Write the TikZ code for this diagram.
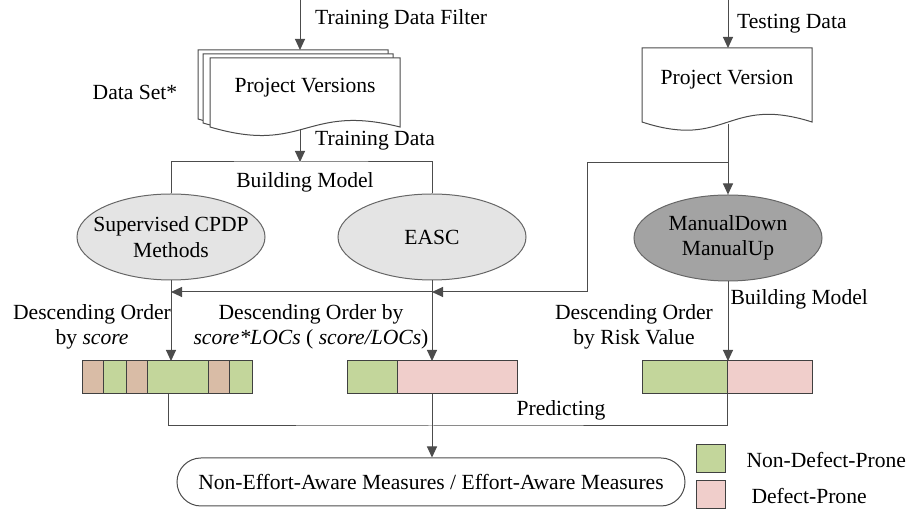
\documentclass[tikz,border=0pt]{standalone}
\usepackage{fontspec}
\setmainfont{Liberation Serif}
\usetikzlibrary{arrows.meta,shapes.geometric}
\definecolor{ngreen}{HTML}{C3D69B}
\definecolor{dpink}{HTML}{F0CECB}
\definecolor{dbrown}{HTML}{D9BCA6}
\definecolor{lgray}{HTML}{E4E4E4}
\definecolor{dgray}{HTML}{A3A3A3}

\begin{document}
\begin{tikzpicture}[x=0.5pt,y=-0.5pt,line width=0.5pt,draw=black!70,
  font=\fontsize{10.8}{12.8}\selectfont,
  >={Triangle[width=5pt,length=5.5pt]},
  mdl/.style={ellipse,draw=black!60,inner sep=0pt,minimum width=94pt,minimum height=43pt},
  seg/.style={rectangle,draw=black!75,inner sep=0pt,outer sep=0pt,minimum height=16.5pt}]
\useasboundingbox (0,0) rectangle (918,517);

% training side: stacked documents
\draw[fill=white] (198,50) -- (388,50) -- (388,119) .. controls (293,95) and (293,147) .. (198,119) -- cycle;
\draw[fill=white] (203,54) -- (393,54) -- (393,123) .. controls (298,99) and (298,151) .. (203,123) -- cycle;
\draw[fill=white] (210,58) -- (400,58) -- (400,127) .. controls (305,103) and (305,155) .. (210,127) -- cycle;
\path (305,88) node (pvs) {Project Versions};
\path (135,92) node (dsLabel) {Data Set*};
\coordinate (trin) at (300,0);
\coordinate (pvsTop) at (300,50);
\coordinate (pvsBot) at (300,129);
\draw[->] (trin) -- node[pos=0.38,right,xshift=4pt]{Training Data Filter} (pvsTop);

% testing side: single document
\draw[fill=white] (642,48) -- (812,48) -- (812,122) .. controls (727,95) and (727,150) .. (642,122) -- cycle;
\path (727,80) node (pv) {Project Version};
\coordinate (tsin) at (728,0);
\coordinate (pvTop) at (728,48);
\coordinate (pvBot) at (728,124);
\draw[->] (tsin) -- node[pos=0.5,right,xshift=1pt]{Testing Data} (pvTop);

% models
\path (171,237) node[mdl,fill=lgray] (sup) {};
\path (sup) node[align=center] (supText) {Supervised CPDP\\Methods};
\path (432,237) node[mdl,fill=lgray] (easc) {};
\path (easc) node (eascText) {EASC};
\path (728,238) node[mdl,fill=dgray] (md) {};
\path (md) node[align=center] (mdText) {ManualDown\\ManualUp};

\coordinate (bm) at (300,162);
\draw[->] (pvsBot) -- node[pos=0.35,right,xshift=4pt]{Training Data} (bm);
\draw (sup.north) |- (bm) -| (easc.north);
\path (305,182) node (bmLabel) {Building Model};

\draw[->] (pvBot) -- (md.north);
\coordinate (tj) at (728,163);
\coordinate (tk) at (587,163);
\coordinate (tl) at (587,292);
\coordinate (ea) at (easc.south |- tl);
\coordinate (sa) at (sup.south |- tl);
\draw (tj) -- (tk) -- (tl);
\draw[->] (tl) -- (ea);
\draw[->] (ea) -- (sa);

% ranked bars
\path (92.5,377.5) node[seg,fill=dbrown,minimum width=10.5pt] (b1a) {};
\path (114.5,377.5) node[seg,fill=ngreen,minimum width=11.5pt] (b1b) {};
\path (136.5,377.5) node[seg,fill=dbrown,minimum width=10.5pt] (b1c) {};
\path (177.5,377.5) node[seg,fill=ngreen,minimum width=30.5pt] (b1d) {};
\path (218.5,377.5) node[seg,fill=dbrown,minimum width=10.5pt] (b1e) {};
\path (240.5,377.5) node[seg,fill=ngreen,minimum width=11.5pt] (b1f) {};

\path (372,377.5) node[seg,fill=ngreen,minimum width=25pt] (b2a) {};
\path (457,377.5) node[seg,fill=dpink,minimum width=60pt] (b2b) {};

\path (684.5,377.5) node[seg,fill=ngreen,minimum width=42.5pt] (b3a) {};
\path (769.5,377.5) node[seg,fill=dpink,minimum width=42.5pt] (b3b) {};

\draw[->] (sup.south) -- (sup.south |- b1d.north);
\draw[->] (easc.south) -- (easc.south |- b2b.north);
\draw[->] (md.south) -- node[pos=0.22,right,inner sep=1pt]{Building Model} (md.south |- b3a.north);

\path (92,327) node[align=center] (ord1) {Descending Order\\by \textit{score}};
\path (311,327) node[align=center] (ord2) {Descending Order by\\\textit{score*LOCs} ( \textit{score/LOCs})};
\path (634,327) node[align=center] (ord3) {Descending Order\\by Risk Value};

% predicting
\path (431,482) node[rectangle,rounded corners=12pt,draw=black!70,minimum width=254pt,minimum height=24pt] (meas) {Non-Effort-Aware Measures / Effort-Aware Measures};
\coordinate (pj) at (431,426);
\draw ([xshift=-4.5pt]b1d.south) |- (pj) -| (b3a.south east);
\draw[->] (easc.south |- b2b.south) -- (easc.south |- meas.north);
\path (561,410) node (predLabel) {Predicting};

% legend
\path (710.5,459) node[seg,fill=ngreen,minimum width=14.5pt,minimum height=14pt] (lgG) {};
\path (746,460) node[anchor=west,inner sep=0pt] (lgGText) {Non-Defect-Prone};
\path (710.5,495) node[seg,fill=dpink,minimum width=14.5pt,minimum height=14pt] (lgP) {};
\path (751,496) node[anchor=west,inner sep=0pt] (lgPText) {Defect-Prone};
\end{tikzpicture}
\end{document}
